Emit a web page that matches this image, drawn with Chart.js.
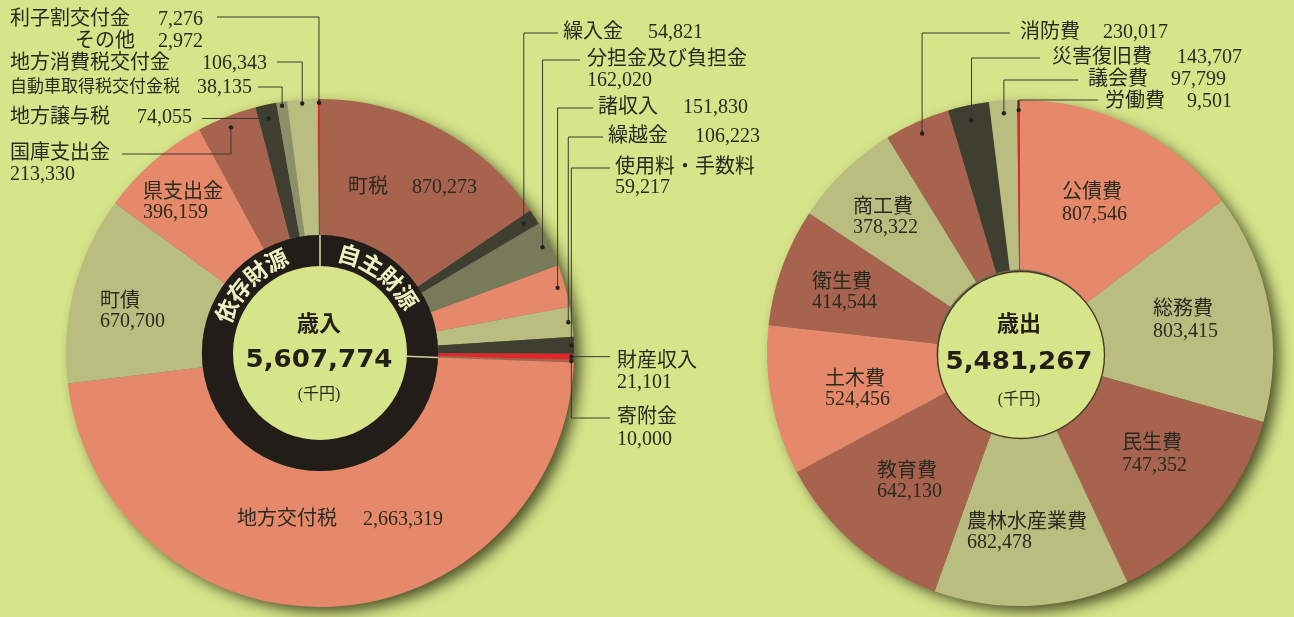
<!DOCTYPE html>
<html><head><meta charset="utf-8">
<script src="https://cdn.jsdelivr.net/npm/chart.js@4.4.1/dist/chart.umd.min.js"></script>
<style>
html,body{margin:0;padding:0}
body{width:1294px;height:617px;overflow:hidden;position:relative;background:#d6e48a}
canvas{position:absolute;left:0;top:0}
</style></head>
<body>
<canvas id="rev" width="1294" height="617"></canvas>
<canvas id="exp" width="1294" height="617"></canvas>
<script>
// ---- data (千円) ----
const revenueLabels = ['町税','繰入金','分担金及び負担金','諸収入','繰越金','使用料・手数料','財産収入','寄附金','地方交付税','町債','県支出金','国庫支出金','地方譲与税','自動車取得税交付金税','地方消費税交付金','その他','利子割交付金'];
const revenueValues = [870273,54821,162020,151830,106223,59217,21101,10000,2663319,670700,396159,213330,74055,38135,106343,2972,7276];
const expenseLabels = ['公債費','総務費','民生費','農林水産業費','教育費','土木費','衛生費','商工費','消防費','災害復旧費','議会費','労働費'];
const expenseValues = [807546,803415,747352,682478,642130,524456,414544,378322,230017,143707,97799,9501];
const revenueTitle = '歳入';
const expenseTitle = '歳出';
const unitLabel = '(千円)';
const ringLabels = ['自主財源','依存財源'];

// ---- styles ----
const C = {bg:'#d6e48a', brown:'#a8634f', salmon:'#e6896a', light:'#b9be80', dark:'#3e3f30', olive:'#777b59', grey:'#8b9068', red:'#e3262a', text:'#2a2a20', line:'#3b3a30'};
const revenueColors = [C.brown,C.dark,C.olive,C.salmon,C.light,C.dark,C.red,C.brown,C.salmon,C.light,C.salmon,C.brown,C.dark,C.grey,C.light,C.light,C.red];
const expenseColors = [C.salmon,C.light,C.brown,C.light,C.brown,C.salmon,C.brown,C.light,C.brown,C.dark,C.light,C.red];

const FONT = '"Liberation Serif","Noto Sans CJK JP",serif';
const fmt = v => v.toLocaleString('en-US');

// label layout (positions of texts; leader: x,y start and radius fraction of dot)
const revenueLayout = [
  {n:[348,188], v:[412,188]},
  {n:[563,33], v:[648,33], lead:{x:558,y:33,r:0.95}},
  {n:[587,60], v:[587,81], lead:{x:580,y:60,r:0.97}},
  {n:[598,108], v:[683,108], lead:{x:593,y:108,r:0.97}},
  {n:[608,137], v:[695,137], lead:{x:603,y:137,r:0.985}},
  {n:[615,168], v:[615,188], lead:{x:610,y:168,r:0.99}},
  {n:[617,362], v:[617,383], lead:{x:610,h:true,r:0.99}},
  {n:[617,418], v:[617,440], lead:{x:610,y:418,r:0.99}},
  {n:[237,520], v:[363,520]},
  {n:[100,302], v:[100,322]},
  {n:[143,193], v:[143,213]},
  {n:[10,154], v:[10,175], lead:{x:122,y:154,r:0.955}},
  {n:[10,118], v:[137,118], lead:{x:202,h:true,r:0.945}},
  {n:[10,88], v:[197,88], size:17, lead:{x:258,y:87,r:0.985}},
  {n:[10,64], v:[202,64], lead:{x:277,y:62,r:0.985}},
  {n:[135,42], v:[158,42], alignR:true},
  {n:[10,20], v:[158,20], lead:{x:217,y:17,r:0.985}}
];
const expenseLayout = [
  {n:[1062,193], v:[1062,215]},
  {n:[1153,310], v:[1153,332]},
  {n:[1122,444], v:[1122,466]},
  {n:[967,523], v:[967,543]},
  {n:[877,472], v:[877,492]},
  {n:[825,380], v:[825,400]},
  {n:[812,283], v:[812,303]},
  {n:[853,208], v:[853,228]},
  {n:[1020,33], v:[1103,33], lead:{x:1010,y:33,r:0.95}},
  {n:[1052,58], v:[1177,58], lead:{x:1040,y:58,r:0.94}},
  {n:[1088,80], v:[1171,80], lead:{x:1078,y:80,r:0.95}},
  {n:[1105,102], v:[1187,102], lead:{x:1098,y:100,r:0.96}}
];

function drawLabels(chart, layout, labels, values){
  const ctx = chart.ctx;
  const arcs = chart.getDatasetMeta(0).data;
  ctx.save();
  ctx.textBaseline = 'middle';
  layout.forEach((L,i)=>{
    const a = arcs[i];
    ctx.fillStyle = C.text;
    ctx.font = (L.size||20)+'px '+FONT;
    ctx.textAlign = L.alignR ? 'right' : 'left';
    ctx.fillText(labels[i], L.n[0], L.n[1]);
    ctx.font = '20px '+FONT;
    ctx.textAlign = 'left';
    ctx.fillText(fmt(values[i]), L.v[0], L.v[1]);
    if (L.lead){
      const mid = (a.startAngle + a.endAngle)/2;
      const R = a.outerRadius * L.lead.r;
      const dx = a.x + R*Math.cos(mid), dy = a.y + R*Math.sin(mid);
      ctx.strokeStyle = C.line; ctx.lineWidth = 1;
      ctx.beginPath();
      if (L.lead.h){ ctx.moveTo(L.lead.x, dy); ctx.lineTo(dx, dy); }
      else { ctx.moveTo(L.lead.x, L.lead.y); ctx.lineTo(dx, L.lead.y); ctx.lineTo(dx, dy); }
      ctx.stroke();
      ctx.fillStyle = '#222';
      ctx.beginPath(); ctx.arc(dx, dy, 2.2, 0, Math.PI*2); ctx.fill();
    }
  });
  ctx.restore();
}

function centerText(ctx, cx, title, total, yT, yN, yU){
  ctx.save();
  ctx.fillStyle = '#221f18';
  ctx.textAlign = 'center'; ctx.textBaseline = 'middle';
  ctx.font = 'bold 22px "Noto Sans CJK JP",sans-serif';
  ctx.fillText(title, cx, yT);
  const s = fmt(total);
  ctx.font = 'bold 25px "DejaVu Sans",sans-serif';
  const w = ctx.measureText(s).width;
  ctx.translate(cx, yN); ctx.scale(147/w, 1);
  ctx.fillText(s, 0, 0);
  ctx.restore();
  ctx.save();
  ctx.fillStyle = '#2a2a20'; ctx.textAlign = 'center'; ctx.textBaseline = 'middle';
  ctx.font = '16px '+FONT;
  ctx.fillText(unitLabel, cx, yU);
  ctx.restore();
}

function ringText(ctx, cx, cy, r, text, centerDeg, stepDeg){
  const chars = [...text]; const n = chars.length;
  chars.forEach((ch,k)=>{
    const a = (centerDeg + (k-(n-1)/2)*stepDeg)*Math.PI/180;
    ctx.save();
    ctx.translate(cx + r*Math.sin(a), cy - r*Math.cos(a));
    ctx.rotate(a);
    ctx.fillText(ch, 0, 0);
    ctx.restore();
  });
}

const shadowPlugin = {
  id:'shadow',
  beforeDatasetsDraw(chart){
    const a = chart.getDatasetMeta(0).data[0];
    const ctx = chart.ctx;
    ctx.save();
    ctx.shadowColor = 'rgba(40,42,15,0.8)';
    ctx.shadowBlur = 14; ctx.shadowOffsetX = 7; ctx.shadowOffsetY = 6;
    ctx.beginPath(); ctx.arc(a.x, a.y, a.outerRadius-1, 0, Math.PI*2);
    ctx.fillStyle = '#6b6b50'; ctx.fill();
    ctx.restore();
  }
};

const revDeco = {
  id:'revDeco',
  afterDatasetsDraw(chart){
    const ctx = chart.ctx;
    const arcs = chart.getDatasetMeta(0).data;
    const a = arcs[0];
    const cx = a.x, cy = a.y, rO = a.innerRadius, rI = 87;
    ctx.save();
    ctx.beginPath(); ctx.arc(cx, cy, rO, 0, Math.PI*2); ctx.fillStyle = '#221d18'; ctx.fill();
    ctx.beginPath(); ctx.arc(cx, cy, rI, 0, Math.PI*2); ctx.fillStyle = C.bg; ctx.fill();
    // dividers between 自主財源 and 依存財源
    ctx.strokeStyle = '#c9d39a'; ctx.lineWidth = 1.6;
    [arcs[0].startAngle, arcs[7].endAngle].forEach(ang=>{
      ctx.beginPath();
      ctx.moveTo(cx + (rI-1)*Math.cos(ang), cy + (rI-1)*Math.sin(ang));
      ctx.lineTo(cx + rO*Math.cos(ang), cy + rO*Math.sin(ang));
      ctx.stroke();
    });
    ctx.fillStyle = '#eef2c2';
    ctx.font = 'bold 23px "Noto Sans CJK JP",sans-serif';
    ctx.textAlign = 'center'; ctx.textBaseline = 'middle';
    ringText(ctx, cx, cy, 102.5, ringLabels[0], 37, 13.5);
    ringText(ctx, cx, cy, 102.5, ringLabels[1], -45.5, 13.5);
    ctx.restore();
    const total = revenueValues.reduce((s,v)=>s+v,0);
    centerText(ctx, cx-1, revenueTitle, total, 323, 360, 395);
    drawLabels(chart, revenueLayout, revenueLabels, revenueValues);
  }
};

const expDeco = {
  id:'expDeco',
  afterDatasetsDraw(chart){
    const ctx = chart.ctx;
    const a = chart.getDatasetMeta(0).data[0];
    ctx.save();
    ctx.beginPath(); ctx.arc(a.x+1, a.y+2, a.innerRadius, 0, Math.PI*2);
    ctx.fillStyle = C.bg; ctx.fill();
    ctx.strokeStyle = '#4a3b28'; ctx.lineWidth = 1.4; ctx.stroke();
    ctx.restore();
    const total = expenseValues.reduce((s,v)=>s+v,0);
    centerText(ctx, a.x-1, expenseTitle, total, 323, 362, 400);
    drawLabels(chart, expenseLayout, expenseLabels, expenseValues);
  }
};

const common = {
  responsive:false, maintainAspectRatio:false, animation:false,
  plugins:{legend:{display:false}, tooltip:{enabled:false}},
  events:[]
};

new Chart(document.getElementById('rev'), {
  type:'doughnut',
  data:{labels:revenueLabels, datasets:[{data:revenueValues, backgroundColor:revenueColors, borderWidth:0}]},
  options:Object.assign({}, common, {cutout:'46.5%', layout:{padding:{left:66, right:720, top:99, bottom:10}}}),
  plugins:[shadowPlugin, revDeco]
});

new Chart(document.getElementById('exp'), {
  type:'doughnut',
  data:{labels:expenseLabels, datasets:[{data:expenseValues, backgroundColor:expenseColors, borderWidth:0}]},
  options:Object.assign({}, common, {cutout:'33%', layout:{padding:{left:767, right:21, top:100, bottom:11}}}),
  plugins:[shadowPlugin, expDeco]
});
</script>
</body></html>
